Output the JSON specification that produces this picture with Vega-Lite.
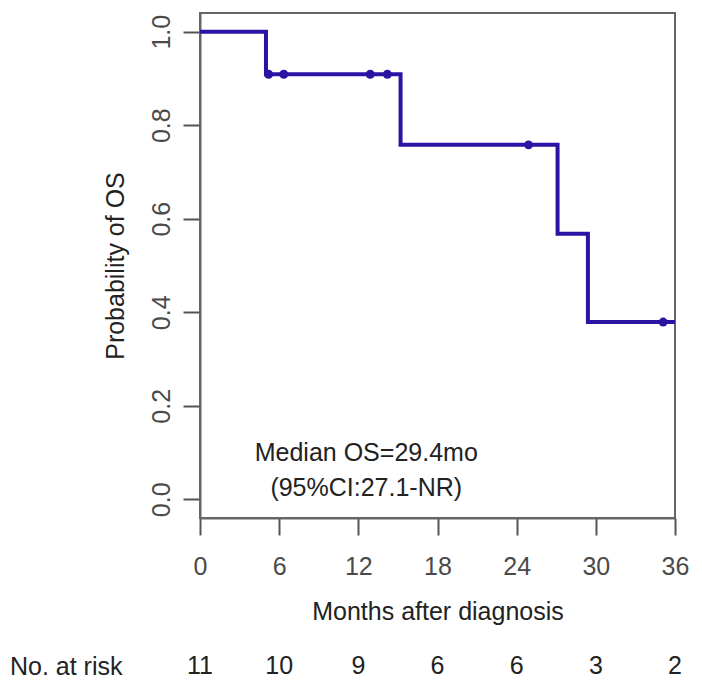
{
  "$schema": "https://vega.github.io/schema/vega-lite/v6.json",
  "padding": {"left": 9, "top": 12, "right": 20, "bottom": 0},
  "background": "white",
  "config": {"font": "Liberation Sans", "view": {"stroke": null}},
  "datasets": {
    "curve": [
      {"time": 0, "surv": 1.0},
      {"time": 5.0, "surv": 0.909},
      {"time": 15.2, "surv": 0.758},
      {"time": 27.1, "surv": 0.568},
      {"time": 29.4, "surv": 0.379},
      {"time": 36, "surv": 0.379}
    ],
    "censor": [
      {"time": 5.2, "surv": 0.909},
      {"time": 6.35, "surv": 0.909},
      {"time": 12.9, "surv": 0.909},
      {"time": 14.2, "surv": 0.909},
      {"time": 24.9, "surv": 0.758},
      {"time": 35.1, "surv": 0.379}
    ],
    "risk": [
      {"time": 0, "n": 11, "row": "No. at risk"},
      {"time": 6, "n": 10, "row": "No. at risk"},
      {"time": 12, "n": 9, "row": "No. at risk"},
      {"time": 18, "n": 6, "row": "No. at risk"},
      {"time": 24, "n": 6, "row": "No. at risk"},
      {"time": 30, "n": 3, "row": "No. at risk"},
      {"time": 36, "n": 2, "row": "No. at risk"}
    ]
  },
  "spacing": 26,
  "vconcat": [
    {
      "width": 475,
      "height": 505,
      "view": {"stroke": "#666", "strokeWidth": 2},
      "layer": [
        {
          "data": {"name": "curve"},
          "mark": {"type": "line", "interpolate": "step-after", "color": "#2A14A3", "strokeWidth": 4},
          "encoding": {
            "x": {
              "field": "time", "type": "quantitative",
              "scale": {"domain": [0, 36], "nice": false, "zero": false},
              "axis": {
                "values": [0, 6, 12, 18, 24, 30, 36],
                "grid": false,
                "labelFlush": false, "labelOverlap": false, "labelBound": false,
                "labelFontSize": 25, "labelColor": "#4a4a4a", "labelPadding": 19,
                "tickSize": 17, "tickWidth": 2, "tickColor": "#555",
                "domainColor": "#666", "domainWidth": 2,
                "title": "Months after diagnosis",
                "titleFontSize": 25, "titleFontWeight": "normal", "titleColor": "#222", "titlePadding": 20
              }
            },
            "y": {
              "field": "surv", "type": "quantitative",
              "scale": {"domain": [-0.04, 1.04], "nice": false, "zero": false},
              "axis": {
                "values": [0, 0.2, 0.4, 0.6, 0.8, 1.0],
                "format": ".1f",
                "grid": false,
                "labelAngle": -90, "labelAlign": "center", "labelBaseline": "alphabetic",
                "labelFontSize": 25, "labelColor": "#4a4a4a", "labelPadding": 14,
                "tickSize": 17, "tickWidth": 2, "tickColor": "#555",
                "domainColor": "#666", "domainWidth": 2,
                "title": "Probability of OS",
                "titleFontSize": 25, "titleFontWeight": "normal", "titleColor": "#222", "titlePadding": 21
              }
            }
          }
        },
        {
          "data": {"name": "censor"},
          "mark": {"type": "point", "filled": true, "size": 80, "color": "#2A14A3", "opacity": 1},
          "encoding": {
            "x": {"field": "time", "type": "quantitative"},
            "y": {"field": "surv", "type": "quantitative"}
          }
        },
        {
          "data": {"values": [{}]},
          "mark": {"type": "text", "fontSize": 25, "lineHeight": 35, "color": "#222", "align": "center", "baseline": "middle"},
          "encoding": {
            "x": {"datum": 12.6},
            "y": {"datum": 0.1},
            "text": {"value": ["Median OS=29.4mo", "(95%CI:27.1-NR)"]}
          }
        }
      ]
    },
    {
      "width": 475,
      "height": 30,
      "view": {"stroke": null},
      "data": {"name": "risk"},
      "mark": {"type": "text", "fontSize": 25, "color": "#222", "baseline": "middle"},
      "encoding": {
        "x": {"field": "time", "type": "quantitative", "scale": {"domain": [0, 36], "nice": false, "zero": false}, "axis": null},
        "y": {"field": "row", "type": "nominal", "axis": {"title": null, "domain": false, "ticks": false, "labelPadding": 78, "labelFontSize": 25, "labelColor": "#222"}},
        "text": {"field": "n", "type": "quantitative"}
      }
    }
  ]
}
